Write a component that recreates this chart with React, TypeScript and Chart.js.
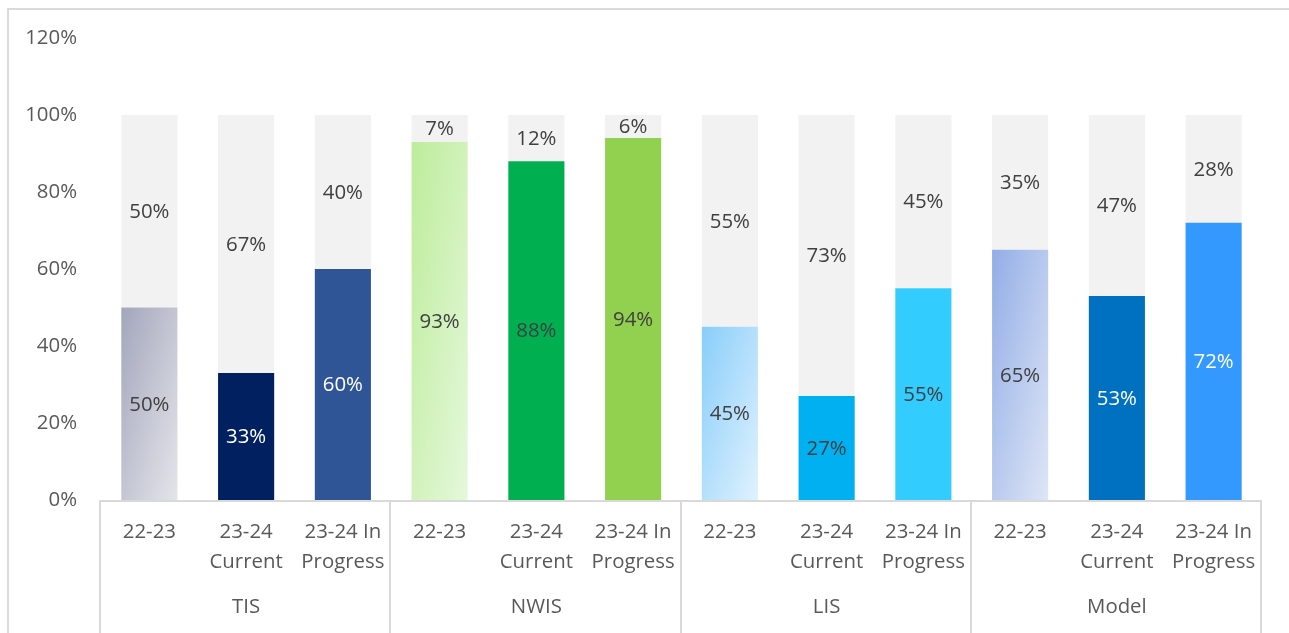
import React, { useEffect, useRef } from "react";
import { Chart, registerables } from "chart.js";

Chart.register(...registerables);

const groups = ["TIS", "NWIS", "LIS", "Model"];
const categories: string[][] = [
  ["22-23"], ["23-24", "Current"], ["23-24 In", "Progress"],
  ["22-23"], ["23-24", "Current"], ["23-24 In", "Progress"],
  ["22-23"], ["23-24", "Current"], ["23-24 In", "Progress"],
  ["22-23"], ["23-24", "Current"], ["23-24 In", "Progress"],
];
const completed = [0.5, 0.33, 0.6, 0.93, 0.88, 0.94, 0.45, 0.27, 0.55, 0.65, 0.53, 0.72];
const remaining = [0.5, 0.67, 0.4, 0.07, 0.12, 0.06, 0.55, 0.73, 0.45, 0.35, 0.47, 0.28];
const yTicks = [0, 0.2, 0.4, 0.6, 0.8, 1.0, 1.2];

const barColors = [
  "#a3a6bc", "#002060", "#2f5597",
  "#bdec9a", "#00b050", "#92d050",
  "#89cdfa", "#00b0f0", "#33ccff",
  "#92ade6", "#0070c0", "#3399ff",
];
// gradient end colours for the 22-23 bars (null = solid)
const gradientEnds: (string | null)[] = [
  "#e4e5ea", null, null,
  "#e5f8dc", null, null,
  "#e0f2fe", null, null,
  "#dee6f6", null, null,
];
const labelColorsBottom = [
  "#404040", "#ffffff", "#ffffff",
  "#404040", "#404040", "#404040",
  "#404040", "#404040", "#404040",
  "#404040", "#ffffff", "#ffffff",
];
const remainingColor = "#f2f2f2";
const FONT = "'Open Sans', sans-serif";
const BAR_PCT = 0.58;

export default function App() {
  const ref = useRef<HTMLCanvasElement | null>(null);

  useEffect(() => {
    if (!ref.current) return;

    const overlay = {
      id: "overlay",
      afterDatasetsDraw(chart: any) {
        const ctx = chart.ctx;
        ctx.save();
        ctx.font = `20.4px ${FONT}`;
        ctx.textAlign = "center";
        ctx.textBaseline = "middle";
        chart.data.datasets.forEach((ds: any, di: number) => {
          const meta = chart.getDatasetMeta(di);
          meta.data.forEach((el: any, i: number) => {
            const v = ds.data[i];
            const cy = (el.y + el.base) / 2;
            ctx.fillStyle = di === 0 ? labelColorsBottom[i] : "#404040";
            ctx.fillText(Math.round(v * 100) + "%", el.x, cy + 1);
          });
        });
        ctx.restore();
      },
      afterDraw(chart: any) {
        const ctx = chart.ctx;
        const area = chart.chartArea;
        const xs = chart.scales.x;
        const n = categories.length;
        const cw = (area.right - area.left) / n;
        ctx.save();
        ctx.strokeStyle = "#d9d9d9";
        ctx.lineWidth = 2;
        ctx.beginPath();
        ctx.moveTo(area.left, area.bottom + 1);
        ctx.lineTo(area.right, area.bottom + 1);
        for (let g = 0; g <= groups.length; g++) {
          const x = Math.round(area.left + g * 3 * cw) - 1;
          ctx.moveTo(x, area.bottom);
          ctx.lineTo(x, chart.height);
        }
        ctx.stroke();
        ctx.font = `20.4px ${FONT}`;
        ctx.fillStyle = "#595959";
        ctx.textAlign = "center";
        ctx.textBaseline = "middle";
        groups.forEach((g, gi) => {
          const x = xs.getPixelForValue(gi * 3 + 1);
          ctx.fillText(g, x, 597);
        });
        ctx.restore();
      },
    };

    const chart = new Chart(ref.current, {
      type: "bar",
      data: {
        labels: categories,
        datasets: [
          {
            label: "Complete",
            data: completed,
            backgroundColor: (c: any) => {
              const i = c.dataIndex;
              const end = gradientEnds[i];
              const chart = c.chart;
              if (!end || !chart.chartArea || !chart.scales.x) return barColors[i];
              const xs = chart.scales.x;
              const ys = chart.scales.y;
              const w = ((chart.chartArea.right - chart.chartArea.left) / categories.length) * BAR_PCT;
              const left = xs.getPixelForValue(i) - w / 2;
              const top = ys.getPixelForValue(completed[i]);
              const h = ys.getPixelForValue(0) - top;
              const s = (2 * w * h) / (h * h + w * w);
              const g = chart.ctx.createLinearGradient(left, top, left + s * h, top + s * w);
              g.addColorStop(0, barColors[i]);
              g.addColorStop(1, end);
              return g;
            },
            categoryPercentage: 1,
            barPercentage: BAR_PCT,
            borderWidth: 0,
          },
          {
            label: "Remaining",
            data: remaining,
            backgroundColor: remainingColor,
            categoryPercentage: 1,
            barPercentage: BAR_PCT,
            borderWidth: 0,
          },
        ],
      },
      options: {
        responsive: false,
        animation: false,
        layout: { padding: { top: 28, right: 27, left: 0, bottom: 0 } },
        plugins: { legend: { display: false }, tooltip: { enabled: false } },
        scales: {
          x: {
            stacked: true,
            grid: { display: false, drawTicks: false },
            border: { display: false },
            ticks: {
              color: "#595959",
              font: { family: FONT, size: 20.4, lineHeight: 1.47 },
              padding: 17,
              maxRotation: 0,
              autoSkip: false,
            },
            afterFit(scale: any) {
              scale.height = 133;
            },
          },
          y: {
            stacked: true,
            min: 0,
            max: 1.2,
            grid: { display: false, drawTicks: false },
            border: { display: false },
            afterBuildTicks(scale: any) {
              scale.ticks = yTicks.map((v) => ({ value: v }));
            },
            ticks: {
              color: "#595959",
              font: { family: FONT, size: 20.4 },
              padding: 24,
              callback: (v: any) => Math.round(Number(v) * 100) + "%",
            },
            afterFit(scale: any) {
              scale.width = 92;
              scale.paddingTop = 0;
              scale.paddingBottom = 0;
            },
          },
        },
      },
      plugins: [overlay],
    });
    return () => chart.destroy();
  }, []);

  return (
    <div
      style={{
        position: "fixed",
        left: 7,
        top: 8,
        right: 0,
        bottom: 0,
        borderTop: "2px solid #d9d9d9",
        borderLeft: "2px solid #d9d9d9",
        overflow: "hidden",
      }}
    >
      <canvas ref={ref} width={1280} height={623} style={{ display: "block" }} />
    </div>
  );
}
